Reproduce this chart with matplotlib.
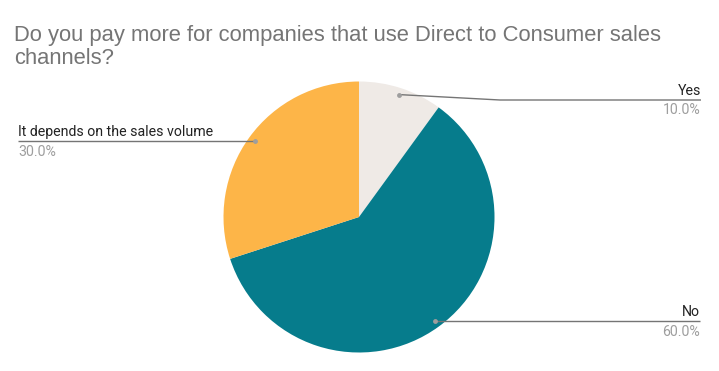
import numpy as np
import matplotlib.pyplot as plt

# data
labels = ["Yes", "No", "It depends on the sales volume"]
shares = [10.0, 60.0, 30.0]
colors = ["#EFEAE6", "#067C8C", "#FDB548"]
title_lines = ["Do you pay more for companies that use Direct to Consumer sales", "channels?"]

W, H = 719, 371
fig = plt.figure(figsize=(W / 100, H / 100), dpi=100)
ax = fig.add_axes([0, 0, 1, 1])

cx, cy, r = 359, H - 217, 135.5
wedges, _ = ax.pie(shares, colors=colors, startangle=90, counterclock=False,
                   center=(cx, cy), radius=r, wedgeprops=dict(linewidth=0))
ax.set_xlim(0, W)
ax.set_ylim(0, H)
ax.set_aspect("equal")
ax.axis("off")

for i, line in enumerate(title_lines):
    fig.text(14 / W, 1 - (41 + 23.5 * i) / H, line, fontsize=15.85, color="#757575",
             family="Liberation Sans", va="baseline")

# label layout: (line y in px from top, line end x, side)
layout = {
    "Yes": (100, 701, "right"),
    "No": (None, 700, "right"),
    "It depends on the sales volume": (None, 18, "left"),
}

for w, lab, val in zip(wedges, labels, shares):
    mid = np.deg2rad((w.theta1 + w.theta2) / 2)
    dx = cx + 0.95 * r * np.cos(mid)
    dy = cy + 0.95 * r * np.sin(mid)
    ly, lx, side = layout[lab]
    ly = dy if ly is None else H - ly
    if abs(ly - dy) > 0.5:
        elbow = 500
        xs, ys = [dx, elbow, lx], [dy, ly, ly]
    else:
        xs, ys = [dx, lx], [dy, ly]
    ax.plot(xs, ys, color="#757575", lw=1, solid_capstyle="butt")
    ax.plot([dx], [dy], "o", ms=3.5, color="#9E9E9E", mec="none")
    ax.text(lx, ly + 5, lab, ha=side, va="baseline", fontsize=10.2, family="Roboto", color="#222222")
    ax.text(lx, ly - 3.5, f"{val:.1f}%", ha=side, va="top", fontsize=10.2, family="Roboto", color="#9E9E9E")

fig.savefig("out.png", dpi=100)
